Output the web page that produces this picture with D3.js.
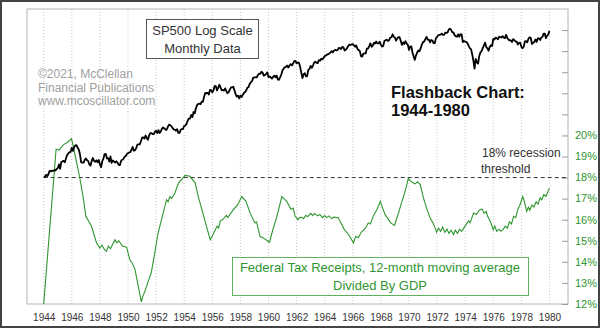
<!DOCTYPE html>
<html>
<head>
<meta charset="utf-8">
<script src="https://cdn.jsdelivr.net/npm/d3@7"></script>
<style>
  html, body { margin: 0; padding: 0; background: #fff; }
  svg { display: block; font-family: Arial, "Liberation Sans", sans-serif; }
</style>
</head>
<body>
<div id="chart"></div>
<script>
// S&P 500 monthly values, Jan 1944 .. Jan 1980
const spStartYear = 1944;
const sp500 = [
  11.85, 11.77, 12.16, 11.89, 12.28, 12.93, 12.83, 12.97, 12.92, 13.07, 13.00, 13.28,
  13.49, 14.30, 13.34, 14.81, 14.98, 15.10, 14.78, 15.69, 16.54, 16.97, 17.33, 17.36,
  18.51, 17.65, 18.73, 19.23, 19.30, 18.50, 17.98, 16.68, 14.74, 14.69, 14.70, 15.30,
  15.69, 15.29, 15.06, 14.26, 14.03, 15.13, 15.81, 15.09, 14.91, 15.24, 14.78, 15.30,
  14.34, 13.71, 15.02, 15.66, 16.81, 16.87, 15.70, 15.77, 14.95, 16.19, 14.62, 15.20,
  14.99, 14.71, 15.02, 14.74, 14.21, 14.14, 15.04, 15.38, 15.52, 16.07, 16.28, 16.76,
  17.05, 17.22, 17.29, 17.96, 18.78, 17.69, 17.84, 18.42, 19.45, 19.53, 19.51, 20.41,
  21.66, 21.80, 21.40, 22.43, 21.52, 20.96, 22.40, 23.28, 23.26, 22.94, 22.88, 23.77,
  24.14, 23.26, 24.37, 23.32, 23.86, 24.96, 25.40, 25.03, 24.54, 24.52, 25.66, 26.57,
  26.38, 25.90, 25.29, 24.62, 24.54, 24.14, 24.75, 23.32, 23.35, 24.54, 24.76, 24.81,
  26.08, 26.15, 26.94, 28.26, 29.19, 29.21, 30.88, 29.83, 32.31, 31.68, 34.24, 35.98,
  36.63, 36.76, 36.58, 37.96, 37.91, 41.03, 43.52, 43.18, 43.67, 42.34, 45.51, 45.48,
  43.82, 45.34, 48.48, 48.38, 45.20, 46.97, 49.39, 47.51, 45.35, 45.58, 45.08, 46.67,
  44.72, 43.26, 44.11, 45.74, 47.43, 47.37, 47.91, 45.22, 42.42, 41.06, 41.72, 39.99,
  41.70, 40.84, 42.10, 43.44, 44.09, 45.24, 47.19, 47.75, 50.06, 51.33, 52.48, 55.21,
  55.42, 55.41, 55.44, 57.59, 58.68, 58.47, 60.51, 59.60, 56.88, 57.52, 58.28, 59.89,
  55.61, 56.12, 55.34, 54.37, 55.83, 56.92, 55.51, 56.96, 53.52, 53.39, 55.54, 58.11,
  61.78, 63.44, 65.06, 65.31, 66.56, 64.64, 66.76, 68.07, 66.73, 68.62, 71.32, 71.55,
  68.84, 69.96, 69.55, 65.24, 59.63, 54.75, 58.23, 59.12, 56.27, 56.52, 62.26, 63.10,
  66.20, 64.29, 66.57, 69.80, 70.80, 69.37, 69.13, 72.50, 71.70, 74.01, 73.23, 75.02,
  77.04, 77.80, 78.98, 79.46, 80.37, 81.69, 83.18, 81.83, 84.18, 84.86, 84.42, 84.75,
  87.56, 87.43, 86.16, 89.11, 88.42, 84.12, 85.25, 87.17, 89.96, 92.42, 91.61, 92.43,
  92.88, 91.22, 89.23, 91.06, 86.13, 84.74, 83.60, 77.10, 76.56, 80.20, 80.45, 80.33,
  86.61, 86.78, 90.20, 94.01, 89.08, 90.64, 94.75, 93.64, 96.71, 93.90, 94.00, 96.47,
  92.24, 89.36, 90.20, 97.59, 98.68, 99.58, 97.74, 98.86, 102.67, 103.41, 108.37, 103.86,
  103.01, 98.13, 101.51, 103.69, 103.46, 97.71, 91.83, 95.51, 93.12, 97.24, 93.81, 92.06,
  85.02, 89.50, 89.63, 81.52, 76.55, 72.72, 78.05, 81.52, 84.21, 83.25, 87.20, 92.15,
  95.88, 96.75, 100.31, 103.95, 99.63, 99.70, 95.58, 99.03, 98.34, 94.23, 93.99, 102.09,
  103.94, 106.57, 107.20, 107.67, 109.53, 107.14, 107.39, 111.09, 110.55, 111.58, 116.67, 118.05,
  116.03, 111.68, 111.52, 106.97, 104.95, 104.26, 108.22, 104.25, 108.43, 108.29, 95.96, 97.55,
  96.57, 96.22, 93.98, 90.31, 87.28, 86.00, 79.31, 72.15, 63.54, 73.90, 69.97, 68.56,
  76.98, 81.59, 83.36, 87.30, 91.15, 95.19, 88.75, 86.88, 83.87, 89.04, 91.24, 90.19,
  100.86, 99.71, 102.77, 101.64, 100.18, 104.28, 103.44, 102.91, 105.24, 102.90, 102.10, 107.46,
  102.03, 99.82, 98.42, 98.44, 96.12, 100.48, 98.85, 96.77, 96.53, 92.34, 94.83, 95.10,
  89.25, 87.04, 89.21, 96.83, 97.24, 95.53, 100.68, 103.29, 102.54, 93.15, 94.70, 96.11,
  99.93, 96.28, 101.59, 101.76, 99.08, 102.91, 103.81, 109.32, 109.32, 101.82, 106.16, 107.94,
  114.16
];

// Federal tax receipts (12-mo avg) / GDP, % -- traced points
const taxYears = [
  1944.00, 1944.88, 1945.10, 1945.40, 1945.75, 1945.98, 1946.30, 1946.57, 1946.80, 1947.00,
  1947.40, 1947.76, 1948.00, 1948.15, 1948.30, 1948.47, 1948.60, 1948.75, 1949.07, 1949.20,
  1949.35, 1949.60, 1949.90, 1950.13, 1950.30, 1950.50, 1950.73, 1950.95, 1951.05, 1951.20,
  1951.45, 1951.65, 1951.90, 1952.14, 1952.50, 1952.74, 1952.85, 1952.98, 1953.10, 1953.34,
  1953.60, 1954.07, 1954.40, 1954.78, 1955.00, 1955.26, 1955.50, 1955.85, 1956.05, 1956.20,
  1956.35, 1956.45, 1956.56, 1956.80, 1957.00, 1957.10, 1957.50, 1957.80, 1958.10, 1958.40,
  1958.70, 1959.04, 1959.15, 1959.40, 1959.60, 1960.07, 1960.30, 1960.60, 1960.95, 1961.10,
  1961.30, 1961.60, 1961.75, 1961.90, 1962.10, 1962.20, 1962.35, 1962.50, 1962.65, 1962.80,
  1963.00, 1963.15, 1963.30, 1963.50, 1963.65, 1963.85, 1964.00, 1964.14, 1964.30, 1964.50,
  1964.65, 1964.96, 1965.20, 1965.40, 1965.70, 1966.05, 1966.20, 1966.40, 1966.60, 1966.90,
  1967.10, 1967.25, 1967.50, 1967.70, 1967.96, 1968.10, 1968.30, 1968.50, 1968.70, 1968.97,
  1969.20, 1969.50, 1969.75, 1969.95, 1970.10, 1970.30, 1970.45, 1970.60, 1970.80, 1971.03,
  1971.25, 1971.50, 1971.75, 1971.97, 1972.10, 1972.25, 1972.40, 1972.55, 1972.70, 1972.85,
  1973.00, 1973.17, 1973.30, 1973.45, 1973.60, 1973.75, 1973.90, 1974.10, 1974.25, 1974.35,
  1974.60, 1974.80, 1975.00, 1975.20, 1975.35, 1975.50, 1975.60, 1975.80, 1976.00, 1976.10,
  1976.25, 1976.40, 1976.55, 1976.70, 1976.85, 1977.00, 1977.15, 1977.30, 1977.45, 1977.60,
  1977.75, 1977.90, 1978.10, 1978.20, 1978.38, 1978.50, 1978.60, 1978.75, 1978.90, 1979.05,
  1979.20, 1979.33, 1979.45, 1979.60, 1979.75, 1979.90, 1980.00
];
const taxPct = [
  12.00, 19.35, 19.30, 19.55, 19.70, 19.85, 18.85, 17.98, 17.10, 16.16,
  15.69, 14.90, 14.66, 14.80, 14.60, 14.50, 14.75, 14.62, 15.05, 14.90,
  15.00, 14.75, 14.70, 14.10, 13.95, 13.63, 12.85, 12.10, 12.35, 12.60,
  13.10, 13.47, 14.40, 15.37, 16.30, 16.95, 16.85, 17.10, 17.00, 17.27,
  17.75, 18.10, 18.06, 17.75, 17.10, 16.48, 15.90, 15.05, 15.30, 15.50,
  15.70, 15.60, 15.92, 16.05, 16.20, 16.10, 16.48, 16.70, 17.10, 16.87,
  16.30, 15.85, 15.90, 15.20, 15.15, 14.93, 15.50, 16.16, 17.10, 17.00,
  16.87, 16.50, 16.55, 16.16, 16.00, 16.10, 16.11, 16.05, 16.20, 16.15,
  16.30, 16.20, 16.30, 16.18, 16.25, 16.10, 16.20, 16.10, 16.18, 16.05,
  16.12, 16.09, 15.80, 15.53, 15.30, 14.90, 15.20, 15.15, 15.40, 15.60,
  15.85, 15.80, 16.24, 16.45, 16.87, 16.60, 16.24, 16.05, 15.85, 15.73,
  16.20, 16.87, 17.40, 17.95, 17.85, 17.75, 17.70, 17.80, 17.67, 17.04,
  16.55, 16.09, 15.80, 15.40, 15.60, 15.45, 15.65, 15.40, 15.55, 15.35,
  15.50, 15.30, 15.50, 15.35, 15.55, 15.45, 15.60, 15.80, 15.95, 15.85,
  16.32, 16.25, 16.45, 16.51, 16.30, 16.40, 16.16, 15.90, 15.53, 15.70,
  15.45, 15.55, 15.45, 15.53, 15.70, 15.60, 15.90, 15.80, 16.16, 16.10,
  16.50, 16.70, 17.10, 16.90, 16.40, 16.60, 16.45, 16.70, 16.60, 16.85,
  16.75, 17.04, 16.95, 17.20, 17.10, 17.35, 17.50
];

const xTickYears = d3.range(1944, 1981, 2);
const pctTicks = d3.range(12, 26);
const pctLabels = d3.range(12, 21);
const threshold = 18;

const W = 600, H = 328;
const plot = { left: 27, top: 9, right: 568, bottom: 304 };
const green = '#2f962f';

const svg = d3.select('#chart').append('svg')
  .attr('width', W)
  .attr('height', H);

const x = d3.scaleLinear().domain([1942.81, 1981.32]).range([plot.left, plot.right]);
const yPct = d3.scaleLinear().domain([12, 26]).range([plot.bottom, plot.top]);
const ySp = d3.scaleLog().domain([10, 100]).range([187.4, 39.4]);

svg.append('rect')
  .attr('x', 1).attr('y', 1).attr('width', W - 2).attr('height', H - 2)
  .attr('fill', '#fff').attr('stroke', '#444').attr('stroke-width', 2);

svg.append('defs').append('clipPath').attr('id', 'plotclip')
  .append('rect')
  .attr('x', plot.left).attr('y', plot.top)
  .attr('width', plot.right - plot.left).attr('height', plot.bottom - plot.top);

// vertical dotted grid
svg.append('g').selectAll('line').data(xTickYears).join('line')
  .attr('x1', d => x(d)).attr('x2', d => x(d))
  .attr('y1', plot.top).attr('y2', plot.bottom)
  .attr('stroke', '#c8c8c8').attr('stroke-dasharray', '1,2');

// plot frame
svg.append('rect')
  .attr('x', plot.left).attr('y', plot.top)
  .attr('width', plot.right - plot.left).attr('height', plot.bottom - plot.top)
  .attr('fill', 'none').attr('stroke', '#b4b4b4');

// right axis: inward ticks, green labels
const yAxis = svg.append('g')
  .attr('transform', `translate(${plot.right},0)`)
  .call(d3.axisLeft(yPct).tickValues(pctTicks).tickSize(6).tickFormat(''));
yAxis.select('.domain').remove();
yAxis.selectAll('.tick line').attr('stroke', '#9a9a9a');

svg.append('g').selectAll('text').data(pctLabels).join('text')
  .attr('x', plot.right + 7)
  .attr('y', d => yPct(d))
  .attr('dy', '0.35em')
  .attr('font-size', 11)
  .attr('fill', green)
  .text(d => d + '%');

// bottom axis labels
const xAxis = svg.append('g')
  .attr('transform', `translate(0,${plot.bottom})`)
  .call(d3.axisBottom(x).tickValues(xTickYears).tickSize(0).tickPadding(10).tickFormat(d3.format('d')));
xAxis.select('.domain').remove();
xAxis.selectAll('text')
  .attr('font-size', 10)
  .attr('font-family', 'Arial, "Liberation Sans", sans-serif')
  .attr('fill', '#333');

// 18% threshold
svg.append('line')
  .attr('x1', x(1944)).attr('x2', plot.right)
  .attr('y1', yPct(threshold)).attr('y2', yPct(threshold))
  .attr('stroke', '#333').attr('stroke-dasharray', '4,3');

svg.append('text')
  .attr('x', 482).attr('y', 157)
  .attr('font-size', 12).attr('fill', '#333')
  .text('18% recession');
svg.append('text')
  .attr('x', 481).attr('y', 173)
  .attr('font-size', 12).attr('fill', '#333')
  .text('threshold');

// tax receipts line
const taxData = taxYears.map((t, i) => [t, taxPct[i]]);
svg.append('path')
  .datum(taxData)
  .attr('clip-path', 'url(#plotclip)')
  .attr('fill', 'none')
  .attr('stroke', green)
  .attr('stroke-width', 1.1)
  .attr('d', d3.line().x(d => x(d[0])).y(d => yPct(d[1])));

// SP500 line
svg.append('path')
  .datum(sp500)
  .attr('fill', 'none')
  .attr('stroke', '#000')
  .attr('stroke-width', 1.8)
  .attr('stroke-linejoin', 'round')
  .attr('d', d3.line().x((d, i) => x(spStartYear + i / 12)).y(d => ySp(d)));

// title box
svg.append('rect')
  .attr('x', 146.5).attr('y', 19.5).attr('width', 112).attr('height', 39)
  .attr('fill', '#fff').attr('stroke', '#555');
svg.append('text')
  .attr('x', 202.5).attr('y', 35).attr('text-anchor', 'middle')
  .attr('font-size', 13).attr('fill', '#333')
  .text('SP500 Log Scale');
svg.append('text')
  .attr('x', 202.5).attr('y', 53).attr('text-anchor', 'middle')
  .attr('font-size', 13).attr('fill', '#333')
  .text('Monthly Data');

// copyright
const copyLines = ['\u00a92021, McClellan', 'Financial Publications', 'www.mcoscillator.com'];
svg.append('g').selectAll('text').data(copyLines).join('text')
  .attr('x', 38)
  .attr('y', (d, i) => 78 + i * 13.5)
  .attr('font-size', 12)
  .attr('fill', '#a0a0a0')
  .text(d => d);

// flashback
svg.append('text')
  .attr('x', 391).attr('y', 98)
  .attr('font-size', 16.5).attr('font-weight', 'bold').attr('fill', '#111')
  .text('Flashback Chart:');
svg.append('text')
  .attr('x', 391).attr('y', 116)
  .attr('font-size', 16.5).attr('font-weight', 'bold').attr('fill', '#111')
  .text('1944-1980');

// legend box
svg.append('rect')
  .attr('x', 232.5).attr('y', 257.5).attr('width', 296).attr('height', 38)
  .attr('fill', '#fff').attr('stroke', '#5fb05f');
svg.append('text')
  .attr('x', 380).attr('y', 272).attr('text-anchor', 'middle')
  .attr('font-size', 13).attr('fill', green)
  .text('Federal Tax Receipts, 12-month moving average');
svg.append('text')
  .attr('x', 380).attr('y', 290).attr('text-anchor', 'middle')
  .attr('font-size', 13).attr('fill', green)
  .text('Divided By GDP');
</script>
</body>
</html>
